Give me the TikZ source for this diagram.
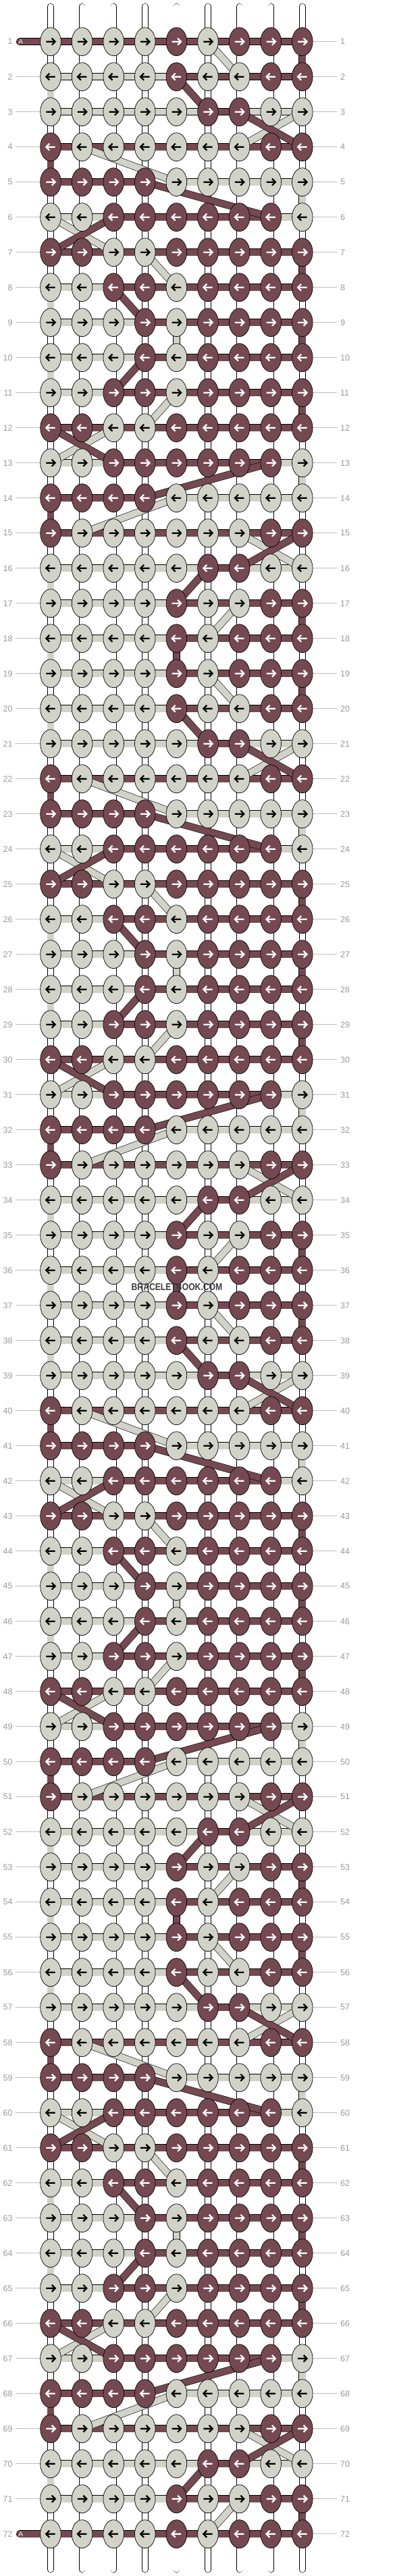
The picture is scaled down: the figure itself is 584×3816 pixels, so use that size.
\documentclass[tikz,border=0pt]{standalone}
\usepackage{fontspec}
\setmainfont{Liberation Sans}
\usetikzlibrary{shapes.geometric}
\definecolor{mar}{HTML}{754951}
\definecolor{lgt}{HTML}{D1D2C8}
\definecolor{labgray}{HTML}{9A9A9A}
\definecolor{linegray}{HTML}{BDBDBD}
\definecolor{wmark}{HTML}{3C3C3C}
\pgfdeclarelayer{strands}
\pgfdeclarelayer{segs}
\pgfsetlayers{strands,segs,main}
\newcount\kcol
\def\Kdata#1{\ifcase#1\or LLLLMLMMM\or LLLLMLLMM\or LLLLLMMLL\or MLLLLLLMM\or MMMMLLLLL\or LLMMMMMML\or MMLLMMMMM\or LLMMLMMMM\or LLLMLMMMM\or LLLMLMMMM\or LLMMLMMMM\or MMLLMMMMM\or LLMMMMMML\or MMMMLLLLL\or MLLLLLLMM\or LLLLLMMLL\or LLLLMLLMM\or LLLLMLMMM\fi}
\def\Sdata#1{\ifcase#1\or LLLLMMMM\or LLLLMMMM\or LLLLLMLL\or MMMMMMMM\or MMMXLLLL\or LLMMMMML\or MMMMMMMM\or LLMMMMMM\or LLLMMMMM\or LLLMMMMM\or LLMMMMMM\or MMMMMMMM\or LLMMMMML\or MMMXLLLL\or MMMMMMMM\or LLLLLMLL\or LLLLMMMM\or LLLLMMMM\fi}
\def\knotloop#1{\ifx\relax#1\else\global\advance\kcol by 1 \placeknot{#1}\expandafter\knotloop\fi}
\def\placeknot#1{%
  \edef\cc{\the\kcol}%
  \pgfmathsetmacro\kx{75+(\cc-1)*46.6}%
  \node[knot#1] (n-\currow-\cc) at (\kx,\ky) {};%
  \draw[arr#1,shift={(\kx,\ky)},xscale=\adir] (-6.7,0) -- (6.0,0) (1.7,-5) -- (6.7,0) -- (1.7,5);%
}
\def\segloop#1{\ifx\relax#1\else\global\advance\kcol by 1 \placeseg{#1}\expandafter\segloop\fi}
\def\placeseg#1{\if#1X\else\edef\cc{\the\kcol}\pgfmathtruncatemacro\nc{\cc+1}\draw[seg#1] (n-\currow-\cc.center) -- (n-\currow-\nc.center);\fi}
\tikzset{
  knotbase/.style={ellipse, draw=black, line width=0.7, minimum width=30.6, minimum height=41.9, inner sep=0pt},
  knotM/.style={knotbase, fill=mar},
  knotL/.style={knotbase, fill=lgt},
  arrbase/.style={line width=2.2, line join=miter, miter limit=10},
  arrM/.style={arrbase, draw=white},
  arrL/.style={arrbase, draw=black},
  segbase/.style={draw=black, line width=0.6, double distance=9.6},
  segM/.style={segbase, double=mar},
  segL/.style={segbase, double=lgt},
  strand/.style={draw=black, line width=0.6, double=white, double distance=8.2, line cap=round},
  rowline/.style={draw=linegray, line width=0.9},
  rowlab/.style={text=labgray, font=\fontsize{12.5}{13}\selectfont, inner sep=0pt},
}
\begin{document}
\begin{tikzpicture}[x=1pt,y=-1pt]
\useasboundingbox (0,0) rectangle (584,3816);
% knots
\foreach \r in {1,...,72} {
  \pgfmathtruncatemacro\p{mod(\r-1,18)+1}
  \pgfmathsetmacro\ky{61.7+(\r-1)*52}
  \edef\currow{\r}
  \ifodd\r\relax\def\adir{1}\else\def\adir{-1}\fi
  \global\kcol=0
  \edef\kstr{\Kdata{\p}}
  \expandafter\knotloop\kstr\relax
  \node[rowlab, anchor=east] (ll-\r) at (18.7,\ky) {\r};
  \node[rowlab, anchor=west] (rl-\r) at (504,\ky) {\r};
}
% working thread ends
\node[text=white, font=\fontsize{10}{10}\selectfont, inner sep=0pt] (atop) at (30.6,61.7) {A};
\node[text=white, font=\fontsize{10}{10}\selectfont, inner sep=0pt] (abot) at (30.6,3753.7) {A};
\node[text=wmark, inner sep=0pt] (wm) at (262,1906) {\scalebox{0.84}[1]{\bfseries\fontsize{14.5}{15}\selectfont BRACELETBOOK.COM}};
\begin{pgfonlayer}{strands}
  \fill[white] (0,0) rectangle (584,3816);
  \foreach \vc in {1,...,9} {
    \pgfmathsetmacro\kx{75+(\vc-1)*46.6}
    \coordinate (st-\vc) at (\kx,9.6);
    \coordinate (sb-\vc) at (\kx,3806.4);
    \draw[strand] (st-\vc) -- (sb-\vc);
  }
  \foreach \r in {1,...,72} {
    \ifnum\r>1 \ifnum\r<72 \draw[rowline] ([xshift=4.6]ll-\r.east) -- (n-\r-1.center);\fi\fi
    \draw[rowline] (n-\r-9.center) -- ([xshift=-5]rl-\r.west);
  }
\end{pgfonlayer}
\begin{pgfonlayer}{segs}
  \coordinate (a1) at (29.4,61.7);
  \coordinate (a2) at (29.4,3753.7);
  \draw[segM, line cap=round] (a1) -- (n-1-1.center);
  \draw[segM, line cap=round] (a2) -- (n-72-1.center);
  \foreach \r in {1,...,72} {
    \pgfmathtruncatemacro\p{mod(\r-1,18)+1}
    \edef\currow{\r}
    \ifnum\r=1 \def\sstr{MMMMMMMM}\else\ifnum\r=72 \def\sstr{MMMMMMMM}\else\edef\sstr{\Sdata{\p}}\fi\fi
    \global\kcol=0
    \expandafter\segloop\sstr\relax
  }
  \foreach \kk in {0,...,3} {
    \foreach \r/\vc/\cl in {1/9/M,2/1/L,4/1/M,5/9/L,7/9/M,8/1/L,9/9/M,9/5/L,10/1/L,11/9/M,13/9/L,14/1/M,16/1/L,17/9/M,18/1/L,18/5/M} {
      \pgfmathtruncatemacro\ra{18*\kk+\r}
      \pgfmathtruncatemacro\rb{\ra+1}
      \ifnum\rb<73 \draw[seg\cl] (n-\ra-\vc.center) -- (n-\rb-\vc.center);\fi
    }
  }
  \foreach \kk in {0,...,3} {
    \foreach \r/\a/\bb in {1/6/7,3/9/7,4/2/5,6/1/3,7/4/5,11/5/4,12/3/1,14/5/2,15/7/9,17/7/6} {
      \pgfmathtruncatemacro\ra{18*\kk+\r}
      \pgfmathtruncatemacro\rb{\ra+1}
      \draw[segL] (n-\ra-\a.center) -- (n-\rb-\bb.center);
    }
  }
  \foreach \kk in {0,...,3} {
    \foreach \r/\a/\bb in {2/5/6,3/7/9,5/4/8,6/3/1,8/3/4,10/4/3,12/1/3,13/8/4,15/9/7,16/6/5} {
      \pgfmathtruncatemacro\ra{18*\kk+\r}
      \pgfmathtruncatemacro\rb{\ra+1}
      \draw[segM] (n-\ra-\a.center) -- (n-\rb-\bb.center);
    }
  }
\end{pgfonlayer}
\end{tikzpicture}
\end{document}
